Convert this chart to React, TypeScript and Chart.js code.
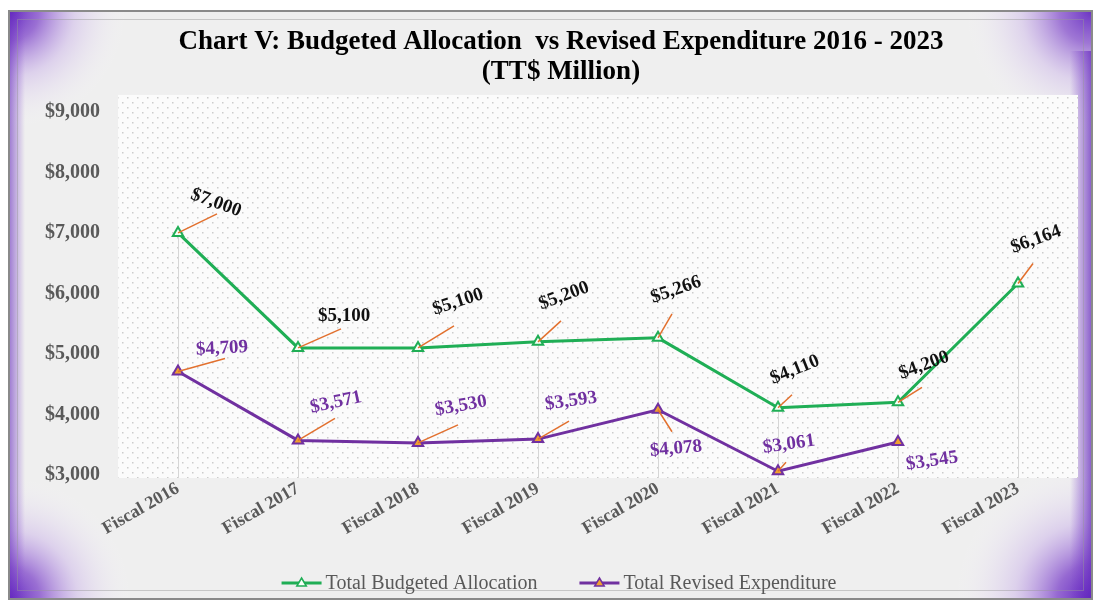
import React, { useEffect, useRef } from "react";
import { Chart, registerables } from "chart.js";

Chart.register(...registerables);

// ---------------- data ----------------
const categories = [
  "Fiscal 2016",
  "Fiscal 2017",
  "Fiscal 2018",
  "Fiscal 2019",
  "Fiscal 2020",
  "Fiscal 2021",
  "Fiscal 2022",
  "Fiscal 2023",
];
const budgeted: (number | null)[] = [7000, 5100, 5100, 5200, 5266, 4110, 4200, 6164];
const revised: (number | null)[] = [4709, 3571, 3530, 3593, 4078, 3061, 3545, null];
const yTickValues = [3000, 4000, 5000, 6000, 7000, 8000, 9000];
const titleLines = [
  "Chart V: Budgeted Allocation  vs Revised Expenditure 2016 - 2023",
  "(TT$ Million)",
];
const seriesNames = ["Total Budgeted Allocation", "Total Revised Expenditure"];

// ---------------- styling / label placement ----------------
const SERIF = "'Liberation Serif', 'Times New Roman', serif";
const GREEN = "#1fae55";
const PURPLE = "#7030a0";
const LEADER = "#e2702e";

// label offsets relative to the point (dx, dy), rotation in degrees, leader end (lx, ly)
const budgetLabelStyle = [
  { dx: 38, dy: -30, rot: 20, lx: 39, ly: -19 },
  { dx: 46, dy: -32, rot: 0, lx: 43, ly: -19 },
  { dx: 40, dy: -46, rot: -18, lx: 36, ly: -22 },
  { dx: 26, dy: -46, rot: -20, lx: 23, ly: -21 },
  { dx: 18, dy: -48, rot: -19, lx: 14, ly: -24 },
  { dx: 17, dy: -38, rot: -22, lx: 14, ly: -13 },
  { dx: 26, dy: -37, rot: -20, lx: 24, ly: -15 },
  { dx: 18, dy: -44, rot: -20, lx: 15, ly: -20 },
];
const revisedLabelStyle = [
  { dx: 44, dy: -23, rot: -3, lx: 47, ly: -13 },
  { dx: 38, dy: -38, rot: -12, lx: 37, ly: -22 },
  { dx: 43, dy: -37, rot: -10, lx: 40, ly: -18 },
  { dx: 33, dy: -38, rot: -8, lx: 31, ly: -18 },
  { dx: 18, dy: 39, rot: -5, lx: 14, ly: 22 },
  { dx: 11, dy: -27, rot: -8, lx: 8, ly: -9 },
  { dx: 34, dy: 19, rot: -8, lx: 0, ly: 0 },
  { dx: 0, dy: 0, rot: 0, lx: 0, ly: 0 },
];
const labelStyles = [budgetLabelStyle, revisedLabelStyle];
const labelColors = ["#111111", PURPLE];

const fmt = (v: number) => "$" + v.toLocaleString("en-US");

// ---------------- plugins ----------------
function makeDotPattern(ctx: CanvasRenderingContext2D) {
  const c = document.createElement("canvas");
  c.width = 10;
  c.height = 10;
  const p = c.getContext("2d")!;
  p.fillStyle = "#fbfbfb";
  p.fillRect(0, 0, 10, 10);
  p.fillStyle = "#cccccc";
  p.fillRect(2, 2, 1.5, 1.5);
  p.fillRect(7, 7, 1.5, 1.5);
  return ctx.createPattern(c, "repeat")!;
}

const framePlugin = {
  id: "frame",
  beforeDraw(chart: any) {
    const ctx: CanvasRenderingContext2D = chart.ctx;
    const W = chart.width;
    const H = chart.height;
    ctx.save();
    ctx.fillStyle = "#ffffff";
    ctx.fillRect(0, 0, W, H);
    const L = 9, T = 11, R = 1092, B = 599;
    ctx.fillStyle = "#efefef";
    ctx.fillRect(L, T, R - L, B - T);

    const corner = (cx: number, cy: number, r: number, strong: number) => {
      const g = ctx.createRadialGradient(cx, cy, 0, cx, cy, r);
      g.addColorStop(0, `rgba(92,30,190,${strong})`);
      g.addColorStop(0.25, `rgba(120,60,200,${strong * 0.75})`);
      g.addColorStop(0.55, `rgba(185,150,230,${strong * 0.35})`);
      g.addColorStop(1, "rgba(255,255,255,0)");
      ctx.fillStyle = g;
      ctx.fillRect(L, T, R - L, B - T);
    };
    corner(L, T, 120, 0.95);
    corner(L, B, 125, 0.95);
    corner(R, T, 130, 0.9);
    corner(R, B, 140, 1);

    // right edge band
    const gr = ctx.createLinearGradient(R - 22, 0, R, 0);
    gr.addColorStop(0, "rgba(120,60,200,0)");
    gr.addColorStop(1, "rgba(100,40,190,0.75)");
    ctx.fillStyle = gr;
    ctx.fillRect(R - 22, T + 40, 22, B - T - 40);
    // left edge band
    const gl = ctx.createLinearGradient(L, 0, L + 16, 0);
    gl.addColorStop(0, "rgba(100,40,190,0.6)");
    gl.addColorStop(1, "rgba(120,60,200,0)");
    ctx.fillStyle = gl;
    ctx.fillRect(L, T, 16, B - T);

    // bevel borders
    ctx.strokeStyle = "#8a8a8a";
    ctx.lineWidth = 2;
    ctx.strokeRect(L, T, R - L, B - T);
    ctx.strokeStyle = "rgba(150,150,150,0.45)";
    ctx.lineWidth = 1;
    ctx.strokeRect(L + 8.5, T + 8.5, R - L - 17, B - T - 17);

    // plot area with dotted fill
    const a = chart.chartArea;
    ctx.fillStyle = makeDotPattern(ctx);
    ctx.fillRect(a.left, a.top, a.right - a.left, a.bottom - a.top);
    ctx.restore();
  },
  beforeDatasetsDraw(chart: any) {
    const ctx: CanvasRenderingContext2D = chart.ctx;
    const a = chart.chartArea;
    ctx.save();
    ctx.strokeStyle = "#d6d6d6";
    ctx.lineWidth = 1;
    categories.forEach((_, i) => {
      let top = Infinity;
      let x = 0;
      chart.data.datasets.forEach((ds: any, di: number) => {
        const el = chart.getDatasetMeta(di).data[i];
        if (ds.data[i] != null && el) {
          top = Math.min(top, el.y);
          x = el.x;
        }
      });
      if (top < Infinity) {
        ctx.beginPath();
        ctx.moveTo(Math.round(x) + 0.5, top);
        ctx.lineTo(Math.round(x) + 0.5, a.bottom);
        ctx.stroke();
      }
    });
    ctx.restore();
  },
  afterDatasetsDraw(chart: any) {
    const ctx: CanvasRenderingContext2D = chart.ctx;
    ctx.save();
    chart.data.datasets.forEach((ds: any, di: number) => {
      const meta = chart.getDatasetMeta(di);
      ds.data.forEach((v: number | null, i: number) => {
        if (v == null) return;
        const el = meta.data[i];
        const s = labelStyles[di][i];
        if (s.lx || s.ly) {
          ctx.strokeStyle = LEADER;
          ctx.lineWidth = 1.5;
          ctx.beginPath();
          ctx.moveTo(el.x, el.y);
          ctx.lineTo(el.x + s.lx, el.y + s.ly);
          ctx.stroke();
        }
        ctx.save();
        ctx.translate(el.x + s.dx, el.y + s.dy);
        ctx.rotate((s.rot * Math.PI) / 180);
        ctx.font = `bold 19px ${SERIF}`;
        ctx.fillStyle = labelColors[di];
        ctx.textAlign = "center";
        ctx.textBaseline = "middle";
        ctx.fillText(fmt(v), 0, 0);
        ctx.restore();
      });
    });
    ctx.restore();
  },
  afterDraw(chart: any) {
    // legend
    const ctx: CanvasRenderingContext2D = chart.ctx;
    ctx.save();
    ctx.font = `20px ${SERIF}`;
    const y = 583;
    const lineLen = 40;
    const gap = 4;
    const between = 42;
    const widths = seriesNames.map((n) => lineLen + gap + ctx.measureText(n).width);
    const total = widths[0] + between + widths[1];
    let x = 559 - total / 2;
    chart.data.datasets.forEach((ds: any, di: number) => {
      ctx.strokeStyle = ds.borderColor;
      ctx.lineWidth = 3;
      ctx.beginPath();
      ctx.moveTo(x, y);
      ctx.lineTo(x + lineLen, y);
      ctx.stroke();
      const cx = x + lineLen / 2;
      const r = 5;
      ctx.beginPath();
      ctx.moveTo(cx, y - r);
      ctx.lineTo(cx + r * 0.95, y + r * 0.6);
      ctx.lineTo(cx - r * 0.95, y + r * 0.6);
      ctx.closePath();
      ctx.fillStyle = ds.pointBackgroundColor;
      ctx.fill();
      ctx.lineWidth = 1.5;
      ctx.stroke();
      ctx.fillStyle = "#595959";
      ctx.textAlign = "left";
      ctx.textBaseline = "middle";
      ctx.fillText(seriesNames[di], x + lineLen + gap, y + 1);
      x += widths[di] + between;
    });
    ctx.restore();
  },
};

export default function App() {
  const ref = useRef<HTMLCanvasElement>(null);

  useEffect(() => {
    const canvas = ref.current!;
    const chart = new Chart(canvas, {
      type: "line",
      data: {
        labels: categories,
        datasets: [
          {
            label: seriesNames[0],
            data: budgeted,
            borderColor: GREEN,
            borderWidth: 3,
            pointStyle: "triangle",
            pointRadius: 6,
            pointBorderWidth: 2,
            pointBorderColor: GREEN,
            pointBackgroundColor: "#f5fff7",
            tension: 0,
          },
          {
            label: seriesNames[1],
            data: revised,
            borderColor: PURPLE,
            borderWidth: 3,
            pointStyle: "triangle",
            pointRadius: 6,
            pointBorderWidth: 2,
            pointBorderColor: PURPLE,
            pointBackgroundColor: "#f0a030",
            tension: 0,
            spanGaps: false,
          },
        ],
      },
      options: {
        responsive: false,
        animation: false,
        devicePixelRatio: 1,
        layout: { padding: { left: 44, right: 19, top: 0, bottom: 0 } },
        plugins: {
          legend: { display: false },
          tooltip: { enabled: false },
          title: {
            display: true,
            text: titleLines,
            color: "#000",
            font: { family: SERIF, size: 27, weight: "bold", lineHeight: 1.11 },
            padding: { top: 27, bottom: 8 },
          },
        },
        scales: {
          x: {
            offset: true,
            grid: { display: false, drawTicks: false },
            border: { display: false },
            ticks: {
              autoSkip: false,
              maxRotation: 30,
              minRotation: 30,
              padding: 0,
              color: "#595959",
              font: { family: SERIF, size: 18, weight: "bold" },
            },
            afterFit: (s: any) => {
              s.height = 125;
            },
          },
          y: {
            min: 2950,
            max: 9280,
            grid: { display: false, drawTicks: false },
            border: { display: false },
            afterBuildTicks: (s: any) => {
              s.ticks = yTickValues.map((v) => ({ value: v }));
            },
            ticks: {
              padding: 18,
              color: "#595959",
              font: { family: SERIF, size: 20, weight: "bold" },
              callback: (v: any) => fmt(Number(v)),
            },
            afterFit: (s: any) => {
              s.width = 74;
            },
          },
        },
      },
      plugins: [framePlugin],
    });
    return () => chart.destroy();
  }, []);

  return (
    <div style={{ position: "fixed", left: 0, top: 0, width: 1097, height: 603, background: "#fff" }}>
      <canvas ref={ref} width={1097} height={603} style={{ display: "block", width: 1097, height: 603 }} />
    </div>
  );
}
